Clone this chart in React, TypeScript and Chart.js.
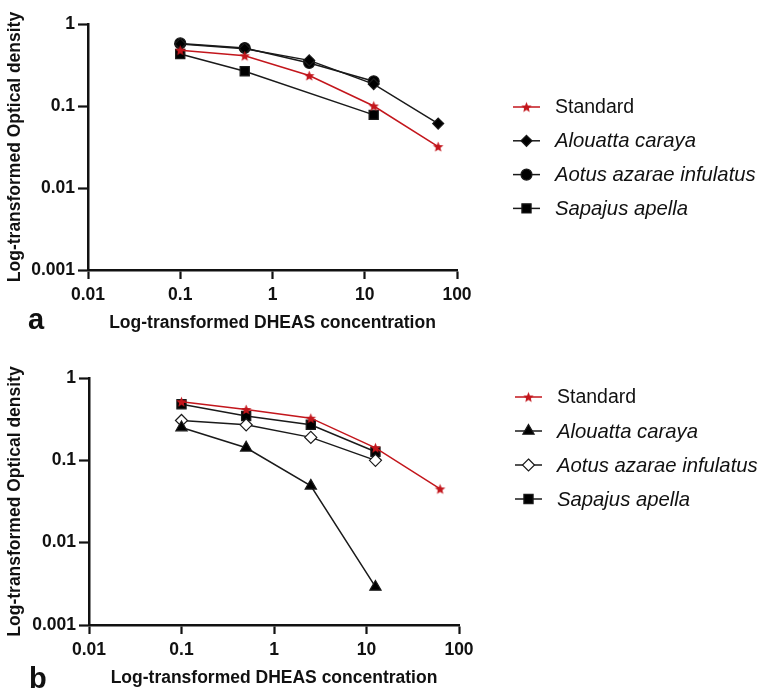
import React, { useEffect, useRef } from 'react';
import { Chart, registerables } from 'chart.js';

Chart.register(...registerables);

// ---------- data ----------
const concentrations = [0.1, 0.5, 2.5, 12.5, 62.5];
const xTickValues = [0.01, 0.1, 1, 10, 100];
const yTickValues = [0.001, 0.01, 0.1, 1];
const seriesNames = ['Standard', 'Alouatta caraya', 'Aotus azarae infulatus', 'Sapajus apella'];
const xTitle = 'Log-transformed DHEAS concentration';
const yTitle = 'Log-transformed Optical density';

// panel a
const standardA = [0.48, 0.41, 0.235, 0.1, 0.032];
const alouattaA = [0.57, 0.5, 0.36, 0.185, 0.061];
const aotusA = [0.58, 0.51, 0.335, 0.2, null];
const sapajusA = [0.43, 0.265, null, 0.078, null];

// panel b
const standardB = [0.515, 0.415, 0.325, 0.142, 0.045];
const alouattaB = [0.25, 0.142, 0.049, 0.0029, null];
const aotusB = [0.305, 0.27, 0.19, 0.1, null];
const sapajusB = [0.48, 0.345, 0.27, 0.127, null];

// ---------- styles ----------
const RED = '#c3161c';
const BLACK = '#1a1a1a';
const FONT = "'Liberation Sans', Arial, Helvetica, sans-serif";

type Marker = 'star' | 'rectRot' | 'circle' | 'rect' | 'triangle';

interface SeriesDef {
  name: string;
  values: (number | null)[];
  marker: Marker;
  color: string;
  fill: string;
  radius: number;
  italic: boolean;
}

interface PanelDef {
  letter: string;
  top: number;
  height: number;
  areaLeft: number;
  areaRight: number;
  areaTop: number;
  areaBottom: number;
  legendY: number;
  legendStep: number;
  legendX1: number;
  legendX2: number;
  legendTextX: number;
  letterX: number;
  letterY: number;
  series: SeriesDef[];
}

function makeStar(color: string, outer: number, inner: number): HTMLCanvasElement {
  const size = Math.ceil(outer * 2 + 2);
  const c = document.createElement('canvas');
  c.width = size;
  c.height = size;
  const ctx = c.getContext('2d')!;
  const cx = size / 2;
  const cy = size / 2 + 0.5;
  ctx.beginPath();
  for (let i = 0; i < 10; i++) {
    const r = i % 2 === 0 ? outer : inner;
    const a = -Math.PI / 2 + (i * Math.PI) / 5;
    const px = cx + r * Math.cos(a);
    const py = cy + r * Math.sin(a);
    if (i === 0) ctx.moveTo(px, py);
    else ctx.lineTo(px, py);
  }
  ctx.closePath();
  ctx.fillStyle = color;
  ctx.fill();
  return c;
}

const panels: PanelDef[] = [
  {
    letter: 'a',
    top: 0,
    height: 345,
    areaLeft: 88,
    areaRight: 457,
    areaTop: 24,
    areaBottom: 270,
    legendY: 107,
    legendStep: 33.8,
    legendX1: 513,
    legendX2: 540,
    legendTextX: 555,
    letterX: 28,
    letterY: 302,
    series: [
      { name: seriesNames[0], values: standardA, marker: 'star', color: RED, fill: RED, radius: 5.5, italic: false },
      { name: seriesNames[1], values: alouattaA, marker: 'rectRot', color: BLACK, fill: '#000', radius: 5.5, italic: true },
      { name: seriesNames[2], values: aotusA, marker: 'circle', color: BLACK, fill: '#000', radius: 5.5, italic: true },
      { name: seriesNames[3], values: sapajusA, marker: 'rect', color: BLACK, fill: '#000', radius: 6.5, italic: true },
    ],
  },
  {
    letter: 'b',
    top: 345,
    height: 346,
    areaLeft: 89,
    areaRight: 459,
    areaTop: 33,
    areaBottom: 280,
    legendY: 52,
    legendStep: 34,
    legendX1: 515,
    legendX2: 542,
    legendTextX: 557,
    letterX: 29,
    letterY: 316,
    series: [
      { name: seriesNames[0], values: standardB, marker: 'star', color: RED, fill: RED, radius: 5.5, italic: false },
      { name: seriesNames[1], values: alouattaB, marker: 'triangle', color: BLACK, fill: '#000', radius: 6.5, italic: true },
      { name: seriesNames[2], values: aotusB, marker: 'rectRot', color: BLACK, fill: '#fff', radius: 6, italic: true },
      { name: seriesNames[3], values: sapajusB, marker: 'rect', color: BLACK, fill: '#000', radius: 6.5, italic: true },
    ],
  },
];

const X_AXIS_HEIGHT = 66;

function drawMarker(ctx: CanvasRenderingContext2D, s: SeriesDef, x: number, y: number, star: HTMLCanvasElement) {
  ctx.save();
  ctx.fillStyle = s.fill;
  ctx.strokeStyle = s.color;
  ctx.lineWidth = 1.2;
  const r = s.radius;
  ctx.beginPath();
  if (s.marker === 'star') {
    ctx.drawImage(star, x - star.width / 2, y - star.height / 2);
    ctx.restore();
    return;
  } else if (s.marker === 'circle') {
    ctx.arc(x, y, r, 0, Math.PI * 2);
  } else if (s.marker === 'rect') {
    const h = r * Math.SQRT1_2;
    ctx.rect(x - h, y - h, 2 * h, 2 * h);
  } else if (s.marker === 'rectRot') {
    ctx.moveTo(x, y - r);
    ctx.lineTo(x + r, y);
    ctx.lineTo(x, y + r);
    ctx.lineTo(x - r, y);
    ctx.closePath();
  } else if (s.marker === 'triangle') {
    for (let i = 0; i < 3; i++) {
      const a = (i * 2 * Math.PI) / 3;
      const px = x + Math.sin(a) * r;
      const py = y - Math.cos(a) * r;
      if (i === 0) ctx.moveTo(px, py);
      else ctx.lineTo(px, py);
    }
    ctx.closePath();
  }
  ctx.fill();
  ctx.stroke();
  ctx.restore();
}

function PanelChart({ panel }: { panel: PanelDef }) {
  const ref = useRef<HTMLCanvasElement>(null);

  useEffect(() => {
    const canvas = ref.current;
    if (!canvas) return;
    const star = makeStar(RED, 5.5, 2.4);

    const datasets = panel.series.map((s) => {
      const pts = concentrations
        .map((c, i) => ({ x: c, y: s.values[i] }))
        .filter((p) => p.y !== null && p.y !== undefined) as { x: number; y: number }[];
      return {
        label: s.name,
        data: pts,
        borderColor: s.color,
        backgroundColor: s.fill,
        borderWidth: 1.5,
        pointStyle: s.marker === 'star' ? (star as any) : s.marker,
        pointRadius: s.radius,
        pointBackgroundColor: s.fill,
        pointBorderColor: s.color,
        pointBorderWidth: 1.2,
        tension: 0,
        spanGaps: true,
        fill: false,
      };
    });

    const legendPlugin = {
      id: 'customLegend',
      afterDraw(chart: Chart) {
        const ctx = chart.ctx;
        panel.series.forEach((s, i) => {
          const y = panel.legendY + i * panel.legendStep;
          ctx.save();
          ctx.strokeStyle = s.color;
          ctx.lineWidth = 1.5;
          ctx.beginPath();
          ctx.moveTo(panel.legendX1, y);
          ctx.lineTo(panel.legendX2, y);
          ctx.stroke();
          ctx.restore();
          drawMarker(ctx, s, (panel.legendX1 + panel.legendX2) / 2, y, star);
          ctx.save();
          ctx.fillStyle = '#111';
          ctx.font = s.italic ? `italic 20.3px ${FONT}` : `19.5px ${FONT}`;
          ctx.textBaseline = 'middle';
          ctx.textAlign = 'left';
          ctx.fillText(s.name, panel.legendTextX, y + 1);
          ctx.restore();
        });
      },
    };

    const tickFont = { family: FONT, size: 17.5, weight: 'bold' as const };

    const chart = new Chart(canvas, {
      type: 'line',
      data: { datasets: datasets as any },
      plugins: [legendPlugin],
      options: {
        responsive: false,
        animation: false,
        devicePixelRatio: 1,
        layout: {
          padding: {
            left: 0,
            top: panel.areaTop,
            right: 763 - panel.areaRight,
            bottom: panel.height - panel.areaBottom - X_AXIS_HEIGHT,
          },
        },
        plugins: {
          legend: { display: false },
          tooltip: { enabled: false },
        },
        scales: {
          x: {
            type: 'logarithmic',
            position: 'bottom',
            min: 0.01,
            max: 100,
            afterBuildTicks: (s: any) => {
              s.ticks = xTickValues.map((v) => ({ value: v }));
            },
            afterFit: (s: any) => {
              s.height = X_AXIS_HEIGHT;
            },
            ticks: {
              callback: (v: any) => String(v),
              font: tickFont,
              color: '#111',
              padding: 6,
              maxRotation: 0,
              autoSkip: false,
            },
            grid: {
              display: true,
              drawOnChartArea: false,
              drawTicks: true,
              tickLength: 9,
              tickWidth: 2.2,
              tickColor: '#111',
              color: '#111',
            },
            border: { display: true, color: '#111', width: 2.5 },
            title: {
              display: true,
              text: xTitle,
              font: tickFont,
              color: '#111',
              padding: { top: 0, bottom: 2.5 },
            },
          },
          y: {
            type: 'logarithmic',
            position: 'left',
            min: 0.001,
            max: 1,
            afterBuildTicks: (s: any) => {
              s.ticks = yTickValues.map((v) => ({ value: v }));
            },
            afterFit: (s: any) => {
              s.width = panel.areaLeft;
            },
            ticks: {
              callback: (v: any) => String(v),
              font: tickFont,
              color: '#111',
              padding: 3,
              autoSkip: false,
            },
            grid: {
              display: true,
              drawOnChartArea: false,
              drawTicks: true,
              tickLength: 10,
              tickWidth: 2.2,
              tickColor: '#111',
              color: '#111',
            },
            border: { display: true, color: '#111', width: 2.5 },
            title: {
              display: true,
              text: yTitle,
              font: tickFont,
              color: '#111',
              padding: { top: 4.5, bottom: 0 },
            },
          },
        },
      } as any,
    });
    return () => chart.destroy();
  }, [panel]);

  return (
    <div style={{ position: 'absolute', left: 0, top: panel.top, width: 763, height: panel.height }}>
      <canvas ref={ref} width={763} height={panel.height} style={{ display: 'block', width: 763, height: panel.height }} />
      <div
        style={{
          position: 'absolute',
          left: panel.letterX,
          top: panel.letterY,
          fontFamily: FONT,
          fontWeight: 'bold',
          fontSize: 29,
          lineHeight: '34px',
          color: '#111',
        }}
      >
        {panel.letter}
      </div>
    </div>
  );
}

export default function App() {
  return (
    <div style={{ position: 'absolute', left: 0, top: 0, width: 763, height: 691, background: '#fff' }}>
      {panels.map((p) => (
        <PanelChart key={p.letter} panel={p} />
      ))}
    </div>
  );
}
